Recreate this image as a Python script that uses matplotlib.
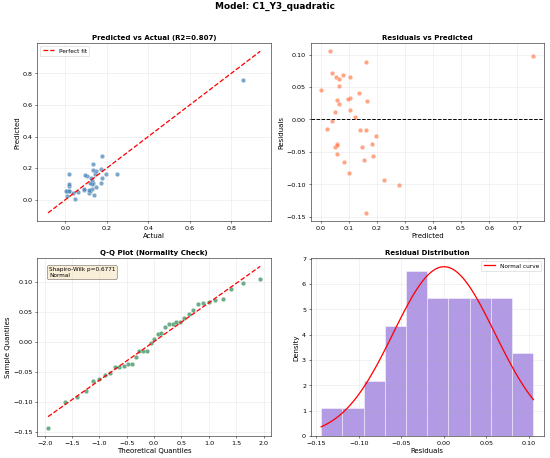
import numpy as np
import matplotlib
matplotlib.use('Agg')
import matplotlib.pyplot as plt
from statistics import NormalDist

model_name = 'C1_Y3_quadratic'
r2_text = '0.807'
shapiro_p = '0.6771'

predicted = [0.032, 0.757, 0.163, 0.042, 0.080, 0.054, 0.065, 0.106, 0.064, 0.002,
             0.137, 0.103, 0.099, 0.059, 0.166, 0.065, 0.106, 0.050, 0.124, 0.040,
             0.022, 0.139, 0.161, 0.196, 0.058, 0.184, 0.148, 0.053, 0.057, 0.188,
             0.156, 0.085, 0.102, 0.227, 0.279, 0.163, 0.057]
residuals = [0.105, 0.098, 0.088, 0.071, 0.069, 0.066, 0.063, 0.065, 0.052, 0.046,
             0.040, 0.033, 0.032, 0.030, 0.029, 0.024, 0.015, 0.012, 0.004, -0.003,
             -0.015, -0.016, -0.016, -0.025, -0.038, -0.038, -0.042, -0.043, -0.053, -0.056,
             -0.062, -0.066, -0.083, -0.093, -0.101, -0.144, -0.040]

y_pred = np.array(predicted)
res = np.array(residuals)
y_true = y_pred + res

fig, axes = plt.subplots(2, 2, figsize=(12, 10), dpi=550 / 12)
fig.suptitle(f'Model: {model_name}', fontsize=14, fontweight='bold', y=0.995, va='top')

# predicted vs actual
ax = axes[0, 0]
ax.scatter(y_true, y_pred, s=50, alpha=0.7, color='steelblue', edgecolors='white', linewidths=0.5)
lo = min(y_true.min(), y_pred.min())
hi = max(y_true.max(), y_pred.max())
m = 0.1 * (hi - lo)
ax.plot([lo - m, hi + m], [lo - m, hi + m], 'r--', lw=2, label='Perfect fit')
ax.set_xlabel('Actual', fontsize=11)
ax.set_ylabel('Predicted', fontsize=11)
ax.set_title(f'Predicted vs Actual (R2={r2_text})', fontsize=11, fontweight='bold')
ax.legend(loc='upper left', fontsize=9)
ax.grid(True, alpha=0.3)

# residuals vs predicted
ax = axes[0, 1]
ax.scatter(y_pred, res, s=50, alpha=0.7, color='coral', edgecolors='white', linewidths=0.5)
ax.axhline(0, color='black', linestyle='--', lw=1.5)
ax.set_xlabel('Predicted', fontsize=11)
ax.set_ylabel('Residuals', fontsize=11)
ax.set_title('Residuals vs Predicted', fontsize=11, fontweight='bold')
ax.grid(True, alpha=0.3)

# Q-Q plot
ax = axes[1, 0]
n = len(res)
sorted_res = np.sort(res)
nd = NormalDist()
theo = np.array([nd.inv_cdf(i / (n + 1)) for i in range(1, n + 1)])
slope, intercept = np.polyfit(theo, sorted_res, 1)
ax.scatter(theo, sorted_res, s=50, alpha=0.7, color='seagreen', edgecolors='white', linewidths=0.5)
ax.plot(theo, slope * theo + intercept, 'r--', lw=2)
ax.set_xlabel('Theoretical Quantiles', fontsize=11)
ax.set_ylabel('Sample Quantiles', fontsize=11)
ax.set_title('Q-Q Plot (Normality Check)', fontsize=11, fontweight='bold')
ax.text(0.05, 0.95, f'Shapiro-Wilk p={shapiro_p}\nNormal', transform=ax.transAxes,
        fontsize=9, va='top', bbox=dict(boxstyle='round', facecolor='wheat', alpha=0.5))
ax.grid(True, alpha=0.3)

# residual histogram
ax = axes[1, 1]
ax.hist(res, bins=10, density=True, alpha=0.7, color='mediumpurple', edgecolor='white')
mu, sigma = res.mean(), res.std()
xs = np.linspace(res.min(), res.max(), 100)
ax.plot(xs, np.exp(-0.5 * ((xs - mu) / sigma) ** 2) / (sigma * np.sqrt(2 * np.pi)),
        'r-', lw=2, label='Normal curve')
ax.set_xlabel('Residuals', fontsize=11)
ax.set_ylabel('Density', fontsize=11)
ax.set_title('Residual Distribution', fontsize=11, fontweight='bold')
ax.legend(fontsize=9)
ax.grid(True, alpha=0.3)

plt.subplots_adjust(left=0.068, right=0.989, top=0.905, bottom=0.048, wspace=0.17, hspace=0.21)
plt.savefig('out.png')
